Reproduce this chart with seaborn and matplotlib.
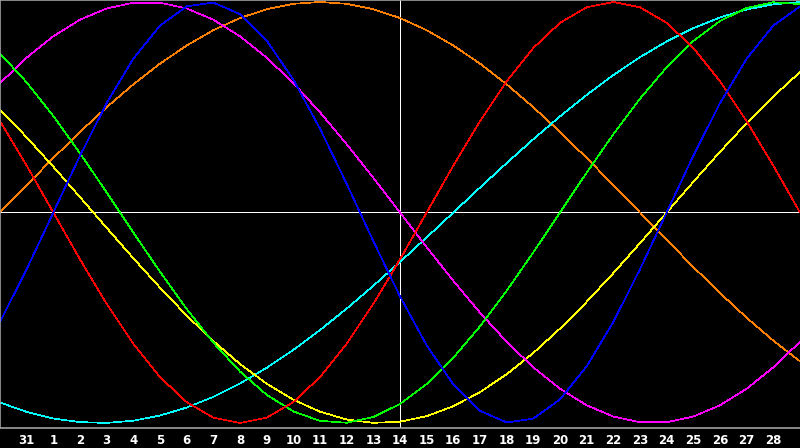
import matplotlib
matplotlib.use("Agg")
import matplotlib.pyplot as plt
import seaborn as sns
import pandas as pd

# ---- data ----
days = list(range(0, 31))
tick_days = list(range(1, 30))
tick_labels = ["31"] + [str(d) for d in range(1, 29)]

red = [0.4339, 0.2225, 0.0, -0.2225, -0.4339, -0.6235, -0.7818, -0.9010, -0.9749, -1.0,
       -0.9749, -0.9010, -0.7818, -0.6235, -0.4339, -0.2225, 0.0, 0.2225, 0.4339, 0.6235,
       0.7818, 0.9010, 0.9749, 1.0, 0.9749, 0.9010, 0.7818, 0.6235, 0.4339, 0.2225, 0.0]
blue = [-0.5196, -0.2698, 0.0, 0.2698, 0.5196, 0.7308, 0.8879, 0.9791, 0.9977, 0.9423,
        0.8170, 0.6311, 0.3984, 0.1362, -0.1362, -0.3984, -0.6311, -0.8170, -0.9423, -0.9977,
        -0.9791, -0.8879, -0.7308, -0.5196, -0.2698, 0.0, 0.2698, 0.5196, 0.7308, 0.8879, 0.9791]
green = [0.7557, 0.6182, 0.4582, 0.2817, 0.0951, -0.0951, -0.2817, -0.4582, -0.6182, -0.7557,
         -0.8660, -0.9450, -0.9898, -0.9989, -0.9718, -0.9096, -0.8146, -0.6901, -0.5406, -0.3717,
         -0.1893, 0.0, 0.1893, 0.3717, 0.5406, 0.6901, 0.8146, 0.9096, 0.9718, 0.9989, 0.9898]
magenta = [0.6142, 0.7357, 0.8372, 0.9158, 0.9694, 0.9966, 0.9966, 0.9694, 0.9158, 0.8372,
           0.7357, 0.6142, 0.4759, 0.3247, 0.1646, 0.0, -0.1646, -0.3247, -0.4759, -0.6142,
           -0.7357, -0.8372, -0.9158, -0.9694, -0.9966, -0.9966, -0.9694, -0.9158, -0.8372, -0.7357, -0.6142]
orange = [0.0, 0.1305, 0.2588, 0.3827, 0.5, 0.6088, 0.7071, 0.7934, 0.8660, 0.9239,
          0.9659, 0.9914, 1.0, 0.9914, 0.9659, 0.9239, 0.8660, 0.7934, 0.7071, 0.6088,
          0.5, 0.3827, 0.2588, 0.1305, 0.0, -0.1305, -0.2588, -0.3827, -0.5, -0.6088, -0.7071]
cyan = [-0.9027, -0.9473, -0.9786, -0.9960, -0.9996, -0.9890, -0.9646, -0.9267, -0.8758, -0.8126,
        -0.7379, -0.6529, -0.5586, -0.4566, -0.3482, -0.2349, -0.1183, 0.0, 0.1183, 0.2349,
        0.3482, 0.4566, 0.5586, 0.6529, 0.7379, 0.8126, 0.8758, 0.9267, 0.9646, 0.9890, 0.9996]
yellow = [0.4894, 0.3572, 0.2174, 0.0730, -0.0730, -0.2174, -0.3572, -0.4894, -0.6111, -0.7198,
          -0.8134, -0.8893, -0.9465, -0.9834, -0.9993, -0.9940, -0.9675, -0.9204, -0.8533, -0.7685,
          -0.6671, -0.5517, -0.4245, -0.2881, -0.1456, 0.0, 0.1456, 0.2881, 0.4245, 0.5517, 0.6671]

series = {
    "orange": orange,
    "cyan": cyan,
    "yellow": yellow,
    "magenta": magenta,
    "green": green,
    "red": red,
    "blue": blue,
}
colors = {
    "orange": "#ff8000",
    "cyan": "#00ffff",
    "yellow": "#ffff00",
    "magenta": "#ff00ff",
    "green": "#00ff00",
    "red": "#ff0000",
    "blue": "#0000ff",
}

rows = []
for name, vals in series.items():
    for d, v in zip(days, vals):
        rows.append({"day": d, "value": v, "cycle": name})
df = pd.DataFrame(rows)

# ---- styling ----
sns.set_style("dark")
plt.rcParams["font.family"] = ["DejaVu Sans"]
plt.rcParams["lines.antialiased"] = False

fig = plt.figure(figsize=(8.0, 4.48), dpi=100, facecolor="black")
ax = fig.add_axes([0.0, 20 / 448, 1.0, 428 / 448])
ax.set_facecolor("black")

lw = 0.5

sns.lineplot(data=df, x="day", y="value", hue="cycle", palette=colors,
             hue_order=list(series.keys()), legend=False, linewidth=lw,
             ax=ax, estimator=None, sort=False)

center_day = days[len(days) // 2]
ax.axhline(0, color="white", lw=lw, zorder=0.5, antialiased=False)
ax.axvline(center_day, color="white", lw=lw, zorder=0.5, antialiased=False)

ax.set_xlim(days[0], days[-1])
ax.set_ylim(-1.0238, 1.0095)

ax.set_xticks(tick_days)
ax.set_xticklabels(tick_labels, fontsize=8.5, fontweight="bold", color="white")
ax.set_yticks([])
ax.tick_params(axis="x", direction="in", length=3.6, width=lw,
               color="white", pad=4.5, labelcolor="white")
ax.set_xlabel("")
ax.set_ylabel("")
ax.grid(False)

for side in ["left", "top", "bottom"]:
    ax.spines[side].set_visible(True)
    ax.spines[side].set_color("#a0a0a0")
    ax.spines[side].set_linewidth(1.2)
ax.spines["right"].set_visible(False)

fig.savefig("out.png", dpi=100, facecolor="black")
